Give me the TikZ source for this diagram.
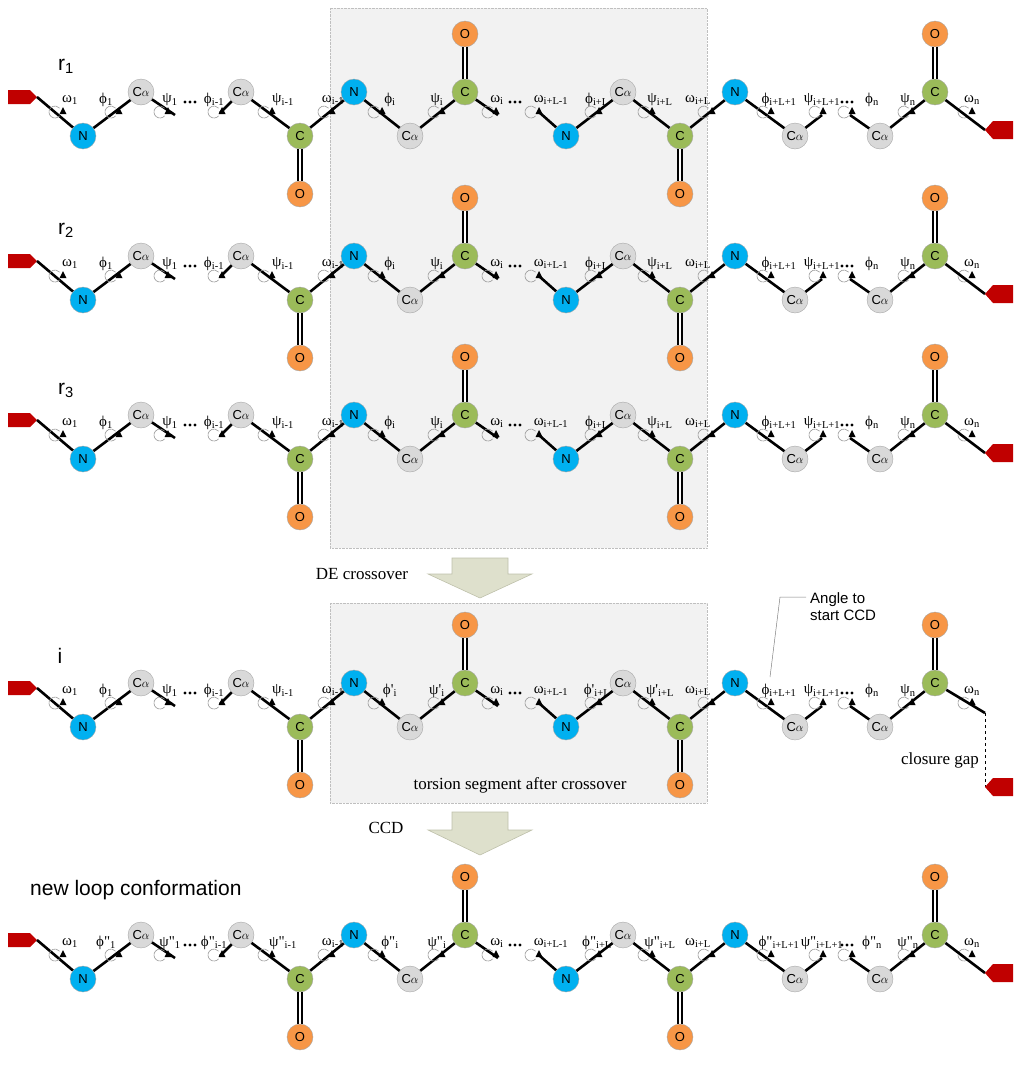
\documentclass[tikz,border=0pt]{standalone}
\usepackage{fontspec}
\setmainfont{Liberation Serif}
\newfontfamily\sans{Liberation Sans}
\begin{document}
\begin{tikzpicture}[x=1pt,y=-1pt,
  atom/.style={circle,draw=gray!70,thin,minimum size=26pt,inner sep=0pt,font=\sans\fontsize{13}{13}\selectfont},
  nN/.style={atom,fill={rgb,255:red,0;green,176;blue,240}},
  nC/.style={atom,fill={rgb,255:red,155;green,187;blue,89}},
  nA/.style={atom,fill={rgb,255:red,217;green,217;blue,217}},
  nO/.style={atom,fill={rgb,255:red,247;green,150;blue,70}},
  bond/.style={line width=2.6pt,black},
  dbl/.style={draw=black,double=white,double distance=2.4pt,line width=1.5pt},
  lab/.style={font=\fontsize{15}{15}\selectfont,inner sep=0pt},
  tor/.style={gray!80,line width=0.6pt},
  endcap/.style={fill={rgb,255:red,192;green,0;blue,0},draw=none},
  blk/.style={fill={rgb,255:red,222;green,224;blue,204},draw={rgb,255:red,190;green,192;blue,170},line width=0.6pt},
  big/.style={font=\sans\fontsize{21}{21}\selectfont,inner sep=0pt},
  txt/.style={font=\fontsize{17}{17}\selectfont,inner sep=0pt}]
\useasboundingbox (0,0) rectangle (1024,1066);
% gray boxes
\draw[fill=gray!10,draw=gray!50,densely dotted] (330,8) rectangle (707,548);
\draw[fill=gray!10,draw=gray!50,densely dotted] (330,603) rectangle (707,803);
% block arrows
\draw[blk] (452,558)--(508,558)--(508,574)--(532,574)--(480,598)--(428,574)--(452,574)--cycle;
\draw[blk] (452,812)--(508,812)--(508,830)--(532,830)--(480,855)--(428,830)--(452,830)--cycle;
\newcommand\tor[1]{\draw[tor] (#1-7,20) ++(40:6) arc[start angle=40,end angle=320,radius=6];
  \fill (#1+1,15)--(#1+4.5,22)--(#1-2.5,22)--cycle;}
\newcommand\lab[2]{\node[lab] at (#1,8) {#2};}
\newcommand\dotsx[1]{\foreach \k in {0,5,10}{\fill (#1+\k,10) circle (1.6);}}
% #1 y, #2 outer mark, #3 inner mark, #4 prefix
\newcommand\chainrow[4]{%
\begin{scope}[yshift=-#1pt]
\node[nN] (#4N1) at (83,44) {N};
\node[nA] (#4A1) at (141,0) {C$\alpha$};
\coordinate (#4t1) at (175,23);
\coordinate (#4t2) at (220,21);
\node[nA] (#4A2) at (241,0) {C$\alpha$};
\node[nC] (#4C1) at (300,44) {C};
\node[nO] (#4O1) at (300,102) {O};
\node[nN] (#4N2) at (354,0) {N};
\node[nA] (#4A3) at (410,44) {C$\alpha$};
\node[nC] (#4C2) at (465,0) {C};
\node[nO] (#4O2) at (465,-58) {O};
\coordinate (#4t3) at (498,23);
\coordinate (#4t4) at (540,21);
\node[nN] (#4N3) at (566,44) {N};
\node[nA] (#4A4) at (623,0) {C$\alpha$};
\node[nC] (#4C3) at (680,44) {C};
\node[nO] (#4O3) at (680,102) {O};
\node[nN] (#4N4) at (735,0) {N};
\node[nA] (#4A5) at (795,44) {C$\alpha$};
\coordinate (#4t5) at (822,23);
\coordinate (#4t6) at (850,23);
\node[nA] (#4A6) at (880,44) {C$\alpha$};
\node[nC] (#4C4) at (935,0) {C};
\node[nO] (#4O4) at (935,-58) {O};
\coordinate (#4cap) at (37,5);
\fill[endcap] (8,-2)--(30,-2)--(37,5)--(30,12)--(8,12)--cycle;
\draw[bond] (#4cap)--(#4N1); \draw[bond] (#4N1)--(#4A1); \draw[bond] (#4A1)--(#4t1);
\draw[bond] (#4t2)--(#4A2); \draw[bond] (#4A2)--(#4C1); \draw[bond] (#4C1)--(#4N2);
\draw[bond] (#4N2)--(#4A3); \draw[bond] (#4A3)--(#4C2); \draw[bond] (#4C2)--(#4t3);
\draw[bond] (#4t4)--(#4N3); \draw[bond] (#4N3)--(#4A4); \draw[bond] (#4A4)--(#4C3);
\draw[bond] (#4C3)--(#4N4); \draw[bond] (#4N4)--(#4A5); \draw[bond] (#4A5)--(#4t5);
\draw[bond] (#4t6)--(#4A6); \draw[bond] (#4A6)--(#4C4);
\draw[dbl] (#4C1)--(#4O1); \draw[dbl] (#4C2)--(#4O2); \draw[dbl] (#4C3)--(#4O3); \draw[dbl] (#4C4)--(#4O4);
\foreach \t in {62,118,167,221,271,331,381,441,495,538,598,651,711,770,822,851,911,971}{\tor{\t}}
\lab{70}{ω\textsubscript{1}}
\lab{106}{ϕ#2\textsubscript{1}}
\lab{170}{ψ#2\textsubscript{1}}
\dotsx{185}
\lab{214}{ϕ#2\textsubscript{i-1}}
\lab{283}{ψ#2\textsubscript{i-1}}
\lab{333}{ω\textsubscript{i-1}}
\lab{390}{ϕ#3\textsubscript{i}}
\lab{437}{ψ#3\textsubscript{i}}
\lab{497}{ω\textsubscript{i}}
\dotsx{510}
\lab{551}{ω\textsubscript{i+L-1}}
\lab{597}{ϕ#3\textsubscript{i+L}}
\lab{660}{ψ#3\textsubscript{i+L}}
\lab{698}{ω\textsubscript{i+L}}
\lab{779}{ϕ#2\textsubscript{i+L+1}}
\lab{822}{ψ#2\textsubscript{i+L+1}}
\dotsx{842}
\lab{872}{ϕ#2\textsubscript{n}}
\lab{908}{ψ#2\textsubscript{n}}
\lab{972}{ω\textsubscript{n}}
\end{scope}}
\chainrow{92}{}{}{a}
\chainrow{256}{}{}{b}
\chainrow{415}{}{}{c}
\chainrow{683}{}{\textquotesingle}{d}
\chainrow{935}{\textquotedbl}{\textquotedbl}{e}
% right end caps
\foreach \p/\y in {a/92,b/256,c/415,e/935}{
  \coordinate (\p end) at (985,\y+38);
  \draw[bond] (\p C4)--(\p end);
  \fill[endcap] (985,\y+38)--(993,\y+29)--(1013,\y+29)--(1013,\y+47)--(993,\y+47)--cycle;}
\coordinate (dend) at (985,713);
\coordinate (dgap) at (985,787);
\draw[bond] (dC4)--(dend);
\draw[dashed,line width=1pt] (dend)--(dgap);
\fill[endcap] (985,787)--(993,778)--(1013,778)--(1013,796)--(993,796)--cycle;
% row labels
\node[big] (r1) at (66,66) {r\textsubscript{1}};
\node[big] (r2) at (66,230) {r\textsubscript{2}};
\node[big] (r3) at (66,390) {r\textsubscript{3}};
\node[big] (ri) at (60,656) {i};
\node[big,anchor=west] (nl) at (30,890) {new loop conformation};
\node[txt] (de) at (362,574) {DE crossover};
\node[txt] (ccd) at (386,828) {CCD};
\node[txt] (ts) at (520,785) {torsion segment after crossover};
\node[txt] (cg) at (940,760) {closure gap};
\node[font=\sans\fontsize{15}{17}\selectfont,align=left,anchor=west,inner sep=0pt] (ang) at (810,607) {Angle to\\start CCD};
\draw[gray,line width=0.5pt] (770,677)--(780,597)--(806,597);
\end{tikzpicture}
\end{document}
